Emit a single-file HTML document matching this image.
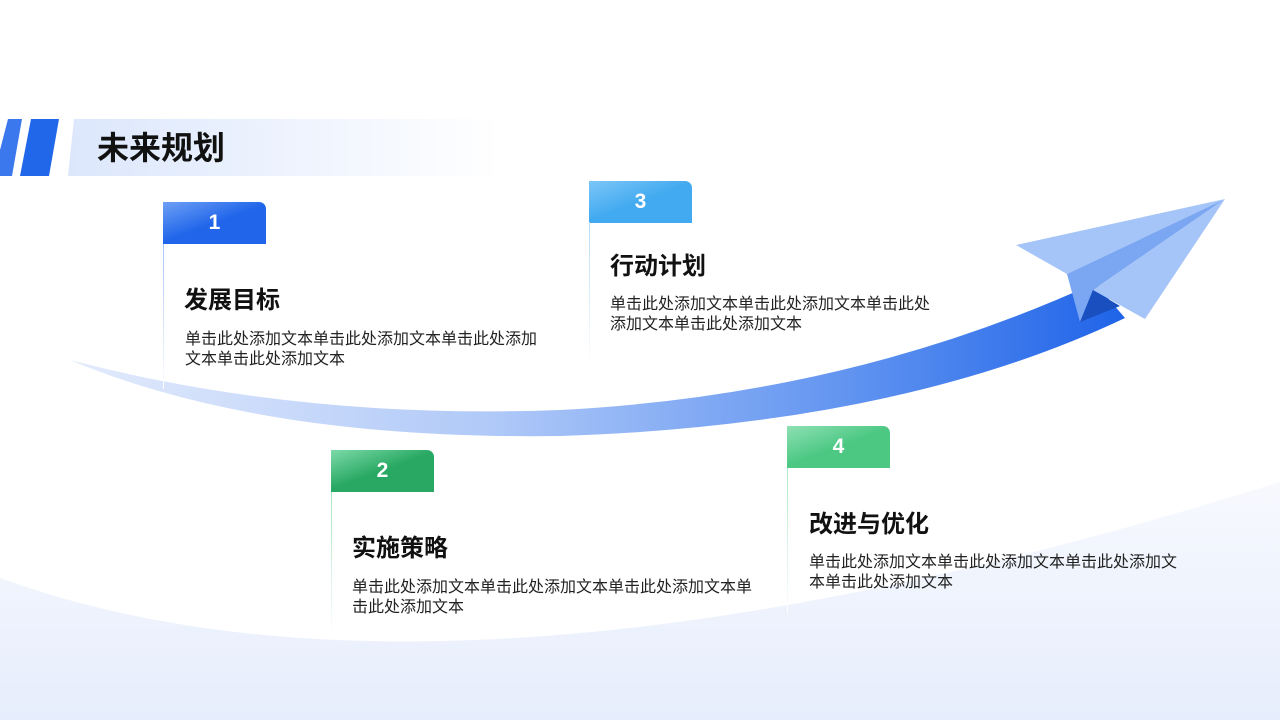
<!DOCTYPE html>
<html><head><meta charset="utf-8"><style>
*{margin:0;padding:0;box-sizing:border-box}
body{width:1280px;height:720px;overflow:hidden;background:#fff;position:relative;font-family:"Liberation Sans","Noto Sans CJK SC",sans-serif}
.abs{position:absolute}
.tab{position:absolute;width:103px;height:42px;border-radius:0 7px 0 0;color:#fff;font-weight:bold;font-size:21px;text-align:center;line-height:42px}
.line{position:absolute;width:1px;height:145px}
.h{position:absolute;font-size:24px;font-weight:bold;color:#111;line-height:30px}
.p{position:absolute;font-size:16px;line-height:20px;color:#222;white-space:nowrap}
</style></head><body>
<svg class="abs" style="left:0;top:0" width="1280" height="720">
<defs>
<linearGradient id="bg" x1="0" y1="0" x2="0" y2="1"><stop offset="0" stop-color="#f7f9fe"/><stop offset="1" stop-color="#e6edfc"/></linearGradient>
<linearGradient id="sw" x1="0" y1="0" x2="1" y2="0"><stop offset="0" stop-color="#e3ebfc"/><stop offset="0.4" stop-color="#b0c9f8"/><stop offset="0.75" stop-color="#5e92f0"/><stop offset="1" stop-color="#1f63e8"/></linearGradient>
<linearGradient id="tb" x1="0" y1="0" x2="1" y2="0"><stop offset="0" stop-color="#dce7fc"/><stop offset="1" stop-color="#ffffff"/></linearGradient>
</defs>
<path d="M0 578 Q450 742 1280 482 L1280 720 L0 720 Z" fill="url(#bg)"/>
<polygon points="74,119 500,119 500,176 68,176" fill="url(#tb)"/>
<polygon points="8,119 22,119 12,176 0,176 0,150" fill="#3b78ee"/>
<polygon points="31,119 59,119 49,176 20,176" fill="#2067ea"/>
<path d="M70 360 Q300 420 560 410 Q850 395 1095 283 L1125 318 Q900 425 560 436 Q260 440 70 360 Z" fill="url(#sw)"/>
<polygon points="1225,199 1016,245 1067,274" fill="#a5c5f8"/>
<polygon points="1225,199 1067,274 1080,322 1093,290" fill="#7aa6f2"/>
<polygon points="1080,322 1093,290 1120,306" fill="#1a4fc0"/>
<polygon points="1225,199 1093,290 1145,319" fill="#a5c5f8"/>
</svg>
<div class="abs" style="left:97px;top:129px;font-size:32px;line-height:38px;font-weight:bold;color:#111">未来规划</div>

<div class="tab" style="left:163px;top:202px;background:linear-gradient(160deg,#6ea0f5,#2166ea 50%)">1</div>
<div class="line" style="left:163px;top:244px;background:linear-gradient(#a9c4f5,#fff)"></div>
<div class="h" style="left:184px;top:286px">发展目标</div>
<div class="p" style="left:185px;top:330px">单击此处添加文本单击此处添加文本单击此处添加<br>文本单击此处添加文本</div>

<div class="tab" style="left:589px;top:181px;background:linear-gradient(160deg,#7cc6f7,#42aaf0 50%)">3</div>
<div class="line" style="left:589px;top:222px;background:linear-gradient(#b8dcf7,#fff)"></div>
<div class="h" style="left:610px;top:252px">行动计划</div>
<div class="p" style="left:610px;top:295px">单击此处添加文本单击此处添加文本单击此处<br>添加文本单击此处添加文本</div>

<div class="tab" style="left:331px;top:450px;background:linear-gradient(160deg,#7ddaa8,#28a862 50%)">2</div>
<div class="line" style="left:331px;top:492px;background:linear-gradient(#a8e3c2,#fff)"></div>
<div class="h" style="left:352px;top:534px">实施策略</div>
<div class="p" style="left:352px;top:578px">单击此处添加文本单击此处添加文本单击此处添加文本单<br>击此处添加文本</div>

<div class="tab" style="left:787px;top:426px;background:linear-gradient(160deg,#8ee0b3,#4cc883 50%)">4</div>
<div class="line" style="left:787px;top:468px;background:linear-gradient(#b0e8c8,#fff)"></div>
<div class="h" style="left:809px;top:510px">改进与优化</div>
<div class="p" style="left:809px;top:553px">单击此处添加文本单击此处添加文本单击此处添加文<br>本单击此处添加文本</div>
</body></html>
